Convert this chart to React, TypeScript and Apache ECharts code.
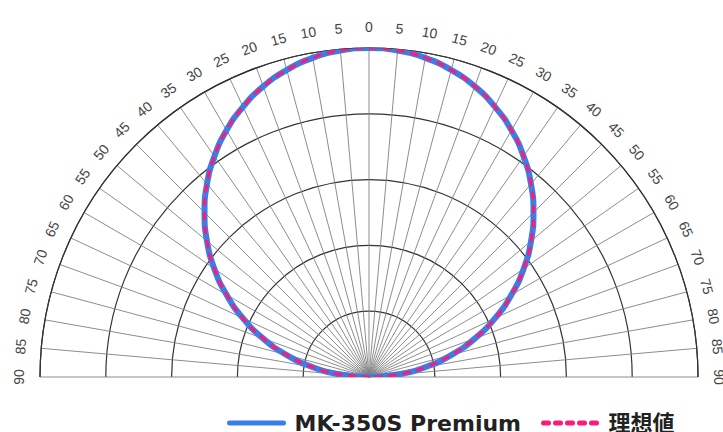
import React, { useEffect, useRef } from "react";
import * as echarts from "echarts";

// Angles (degrees) and tick labels of the half polar grid
const angleTicks = [-90, -85, -80, -75, -70, -65, -60, -55, -50, -45, -40, -35, -30, -25, -20, -15, -10, -5, 0, 5, 10, 15, 20, 25, 30, 35, 40, 45, 50, 55, 60, 65, 70, 75, 80, 85, 90];
const angleLabels = ["90", "85", "80", "75", "70", "65", "60", "55", "50", "45", "40", "35", "30", "25", "20", "15", "10", "5", "0", "5", "10", "15", "20", "25", "30", "35", "40", "45", "50", "55", "60", "65", "70", "75", "80", "85", "90"];

// Relative intensity at each angle
const measured = [0.0, 0.088, 0.175, 0.26, 0.343, 0.423, 0.5, 0.574, 0.643, 0.707, 0.766, 0.819, 0.866, 0.906, 0.94, 0.966, 0.985, 0.996, 1.0, 0.996, 0.985, 0.966, 0.94, 0.906, 0.866, 0.819, 0.766, 0.707, 0.643, 0.574, 0.5, 0.423, 0.343, 0.26, 0.175, 0.088, 0.0];
const ideal = [0.0, 0.087, 0.174, 0.259, 0.342, 0.423, 0.5, 0.574, 0.643, 0.707, 0.766, 0.819, 0.866, 0.906, 0.94, 0.966, 0.985, 0.996, 1.0, 0.996, 0.985, 0.966, 0.94, 0.906, 0.866, 0.819, 0.766, 0.707, 0.643, 0.574, 0.5, 0.423, 0.342, 0.259, 0.174, 0.087, 0.0];

const seriesNames = ["MK-350S Premium", "理想値"];

const BLUE = "#3a7ee8";
const PINK = "#ff1a78";

export default function App() {
  const ref = useRef<HTMLDivElement>(null);
  useEffect(() => {
    if (!ref.current) return;
    const chart = echarts.init(ref.current, undefined, { renderer: "svg" });
    chart.setOption({
      animation: false,
      backgroundColor: "#ffffff",
      polar: { center: [369, 377], radius: 329 },
      angleAxis: {
        type: "value",
        min: -90,
        max: 90,
        interval: 5,
        startAngle: 180,
        endAngle: 0,
        clockwise: true,
        axisLine: { show: true, lineStyle: { color: "#333", width: 1.2 } },
        axisTick: { show: false },
        axisLabel: { show: false },
        splitLine: { show: true, lineStyle: { color: "#808080", width: 0.9 } },
      },
      radiusAxis: {
        type: "value",
        min: 0,
        max: 1,
        interval: 0.2,
        axisLine: { show: false },
        axisTick: { show: false },
        axisLabel: { show: false },
        splitLine: { show: true, lineStyle: { color: "#333", width: 1.2 } },
      },
      legend: {
        data: [
          { name: seriesNames[0], itemStyle: { opacity: 0 }, lineStyle: { color: BLUE, width: 5, cap: "round" } },
          { name: seriesNames[1], itemStyle: { opacity: 0 }, lineStyle: { color: PINK, width: 5, type: [5, 7], cap: "round" } },
        ],
        left: 227,
        top: 412,
        padding: 0,
        itemWidth: 54,
        itemHeight: 14,
        itemGap: 20,
        textStyle: {
          fontSize: 22,
          lineHeight: 20,
          fontWeight: "bold",
          fontFamily: "'DejaVu Sans', 'Noto Sans CJK JP', sans-serif",
          color: "#222",
          padding: [0, 0, 0, 6],
        },
      },
      series: [
        {
          name: seriesNames[0],
          type: "line",
          coordinateSystem: "polar",
          symbol: "none",
          smooth: true,
          data: angleTicks.map((a, i) => [measured[i], a]),
          lineStyle: { color: BLUE, width: 6 },
          itemStyle: { color: BLUE },
          z: 3,
        },
        {
          name: seriesNames[1],
          type: "line",
          coordinateSystem: "polar",
          symbol: "none",
          smooth: true,
          data: angleTicks.map((a, i) => [ideal[i], a]),
          lineStyle: { color: PINK, width: 3, type: [6, 8], cap: "round" },
          itemStyle: { color: PINK },
          z: 4,
        },
        {
          type: "custom",
          coordinateSystem: "polar",
          silent: true,
          data: angleTicks.map((a) => [1, a]),
          renderItem: (params: any, api: any) => {
            const i = params.dataIndex;
            const a = angleTicks[i];
            const c = api.coord([0, a]);
            const p = api.coord([1, a]);
            const k = 1.063;
            return {
              type: "text",
              x: c[0] + (p[0] - c[0]) * k,
              y: c[1] + (p[1] - c[1]) * k,
              rotation: (-a * Math.PI) / 180,
              style: {
                text: angleLabels[i],
                fill: "#444",
                fontSize: 14,
                fontFamily: "'Liberation Sans', Arial, sans-serif",
                align: "center",
                verticalAlign: "middle",
              },
            };
          },
        },
      ],
    });
    return () => chart.dispose();
  }, []);
  return (
    <div
      ref={ref}
      style={{ position: "fixed", left: 0, top: 0, width: 723, height: 432 }}
    />
  );
}
